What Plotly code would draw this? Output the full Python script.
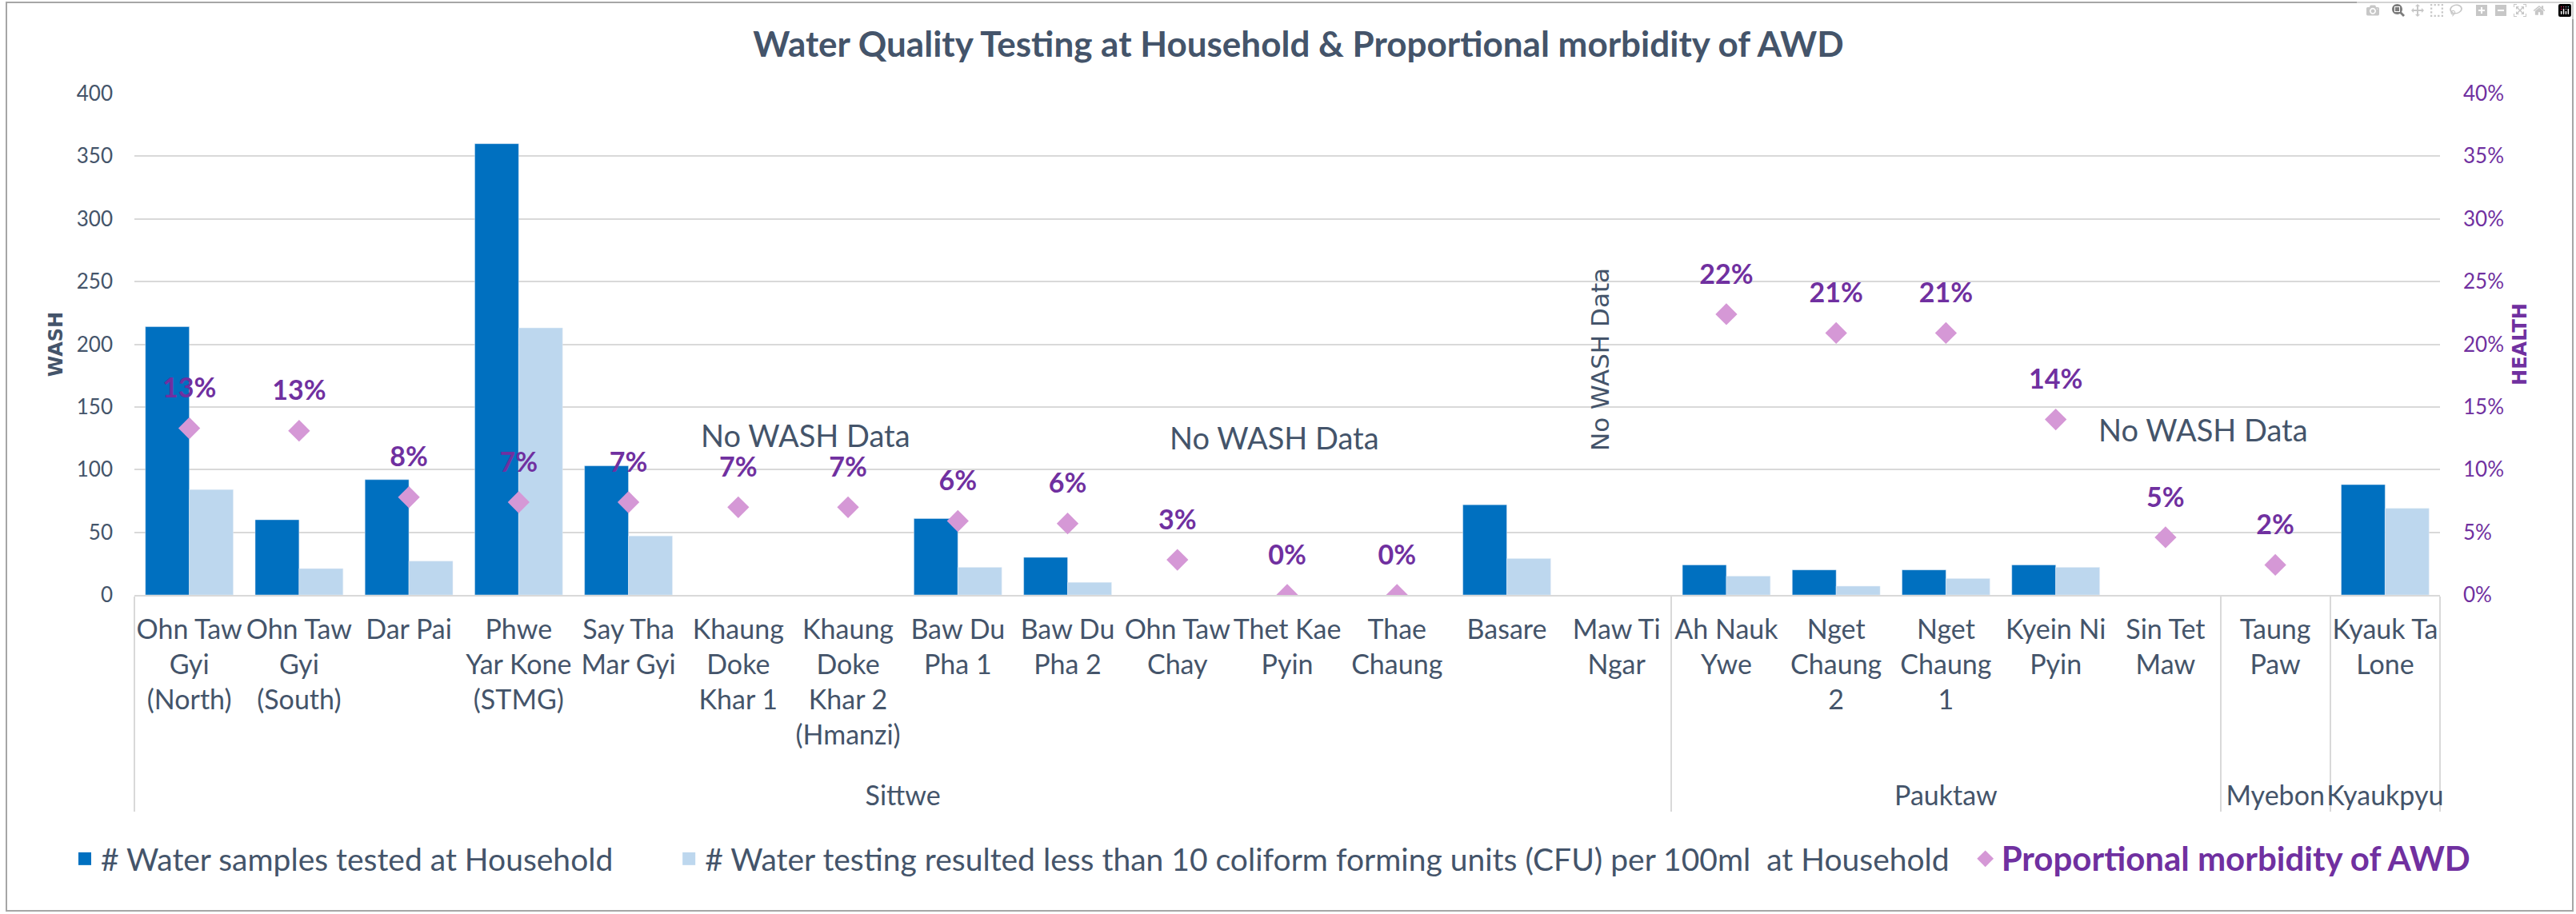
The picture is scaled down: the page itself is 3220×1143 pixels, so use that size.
import plotly.graph_objects as go

# ---------------- data ----------------
districts = ["Sittwe"] * 14 + ["Pauktaw"] * 5 + ["Myebon", "Kyaukpyu"]
villages = [
    "Ohn Taw<br>Gyi<br>(North)", "Ohn Taw<br>Gyi<br>(South)", "Dar Pai",
    "Phwe<br>Yar Kone<br>(STMG)", "Say Tha<br>Mar Gyi", "Khaung<br>Doke<br>Khar 1",
    "Khaung<br>Doke<br>Khar 2<br>(Hmanzi)", "Baw Du<br>Pha 1", "Baw Du<br>Pha 2",
    "Ohn Taw<br>Chay", "Thet Kae<br>Pyin", "Thae<br>Chaung", "Basare", "Maw Ti<br>Ngar",
    "Ah Nauk<br>Ywe", "Nget<br>Chaung<br>2", "Nget<br>Chaung<br>1", "Kyein Ni<br>Pyin",
    "Sin Tet<br>Maw", "Taung<br>Paw", "Kyauk Ta<br>Lone",
]
samples_tested = [214, 60, 92, 360, 103, None, None, 61, 30, None, None, None, 72, None,
                  24, 20, 20, 24, None, None, 88]
samples_safe = [84, 21, 27, 213, 47, None, None, 22, 10, None, None, None, 29, None,
                15, 7, 13, 22, None, None, 69]
awd_morbidity = [0.133, 0.131, 0.078, 0.074, 0.074, 0.070, 0.070, 0.059, 0.057, 0.028,
                 0.0, 0.0, None, None, 0.224, 0.209, 0.209, 0.140, 0.046, 0.024, None]

name_tested = "# Water samples tested at Household"
name_safe = "# Water testing resulted less than 10 coliform forming units (CFU) per 100ml  at Household"
name_awd = "Proportional morbidity of AWD"
title_text = "Water Quality Testing at Household & Proportional morbidity of AWD"
no_data_text = "No WASH Data"

# ---------------- style ----------------
DARK = "#0070C0"
LIGHT = "#BDD7EE"
PINK = "#D598D6"
PURPLE = "#7030A0"
SLATE = "#44546A"
GRID = "#D9D9D9"
FONT = "Lato"
WIDE = "DejaVu Sans"

W, H = 3220, 1143
L, R, T, B = 168, 170, 117, 399
PW, PH = W - L - R, H - T - B


def px(xp):
    return (xp - L) / PW


def py(yp):
    return (H - B - yp) / PH


# an extra blank line under each village label leaves room above the district row
village_labels = [v + "<br>&nbsp;" for v in villages]
x = [districts, village_labels]
first_x = [[districts[0]], [village_labels[0]]]


def nbsp(n):
    return "&nbsp;" * n


fig = go.Figure()
fig.add_trace(go.Bar(x=x, y=samples_tested, name=name_tested, marker_color=DARK,
                     showlegend=False, legendgroup="a"))
fig.add_trace(go.Bar(x=x, y=samples_safe, name=name_safe, marker_color=LIGHT,
                     showlegend=False, legendgroup="b"))
fig.add_trace(go.Scatter(x=x, y=awd_morbidity, yaxis="y2", mode="markers", name=name_awd,
                         marker=dict(symbol="diamond", size=21, color=PINK),
                         showlegend=False, legendgroup="c"))
fig.add_trace(go.Scatter(x=x, y=awd_morbidity, yaxis="y2", mode="markers+text",
                         marker=dict(size=46, opacity=0, color=PINK),
                         texttemplate="<b>%{y:.0%}</b>", textposition="top center",
                         textfont=dict(family=FONT, size=34, color=PURPLE),
                         hoverinfo="skip", showlegend=False))
# legend entries
fig.add_trace(go.Scatter(x=first_x, y=[None], mode="markers", name=name_tested + nbsp(7),
                         marker=dict(symbol="square", size=24, color=DARK), legendgroup="a"))
fig.add_trace(go.Scatter(x=first_x, y=[None], mode="markers", name=name_safe + nbsp(2),
                         marker=dict(symbol="square", size=24, color=LIGHT), legendgroup="b"))
fig.add_trace(go.Scatter(x=first_x, y=[None], yaxis="y2", mode="markers",
                         name=f"<span style='color:{PURPLE};font-size:42px'><b>{name_awd}</b></span>",
                         marker=dict(symbol="diamond", size=26, color=PINK), legendgroup="c"))

annotations = [
    dict(text=no_data_text, x=px(1007), y=py(544)),
    dict(text=no_data_text, x=px(1593), y=py(547)),
    dict(text=no_data_text, x=px(2754), y=py(537)),
]
ann = []
for a in annotations:
    ann.append(dict(xref="paper", yref="paper", showarrow=False, xanchor="center", yanchor="middle",
                    font=dict(family=FONT, size=38, color=SLATE), **a))
ann.append(dict(xref="paper", yref="paper", showarrow=False, xanchor="center", yanchor="middle",
                text=no_data_text, x=px(2000), y=py(450), textangle=-90,
                font=dict(family=WIDE, size=31, color=SLATE)))

fig.update_layout(
    width=W, height=H, autosize=False,
    margin=dict(l=L, r=R, t=T, b=B, pad=0, autoexpand=False),
    paper_bgcolor="white", plot_bgcolor="white",
    font=dict(family=FONT, color=SLATE),
    title=dict(text=f"<b>{title_text}</b>", xref="container", yref="container",
               x=1623 / W, y=1 - 56 / H, xanchor="center", yanchor="middle",
               font=dict(family=FONT, size=44, color=SLATE)),
    barmode="group", bargap=0.2, bargroupgap=0,
    xaxis=dict(showgrid=False, showline=True, linecolor=GRID, linewidth=2,
               range=[-0.5, len(villages) - 0.5], autorange=False, tickangle=0,
               showdividers=True, dividercolor=GRID, dividerwidth=2,
               ticklabelstandoff=12, automargin=False,
               tickfont=dict(family=FONT, size=34, color=SLATE), ticks=""),
    yaxis=dict(range=[0, 400], dtick=50, showgrid=True, gridcolor=GRID, gridwidth=2,
               zeroline=False, showline=False, ticklabelstandoff=26, automargin=False,
               tickfont=dict(family=FONT, size=26, color=SLATE),
               title=dict(text="<b>WASH</b>", standoff=10,
                          font=dict(family=WIDE, size=24, color=SLATE))),
    yaxis2=dict(range=[0, 0.4], dtick=0.05, tickformat=".0%", overlaying="y", side="right",
                showgrid=False, zeroline=False, showline=False, ticklabelstandoff=28,
                automargin=False,
                tickfont=dict(family=FONT, size=26, color=PURPLE),
                title=dict(text="<b>HEALTH</b>", standoff=12,
                           font=dict(family=WIDE, size=24, color=PURPLE))),
    legend=dict(orientation="h", xref="paper", yref="paper",
                x=px(86), xanchor="left", y=py(1074), yanchor="middle",
                font=dict(family=FONT, size=39, color=SLATE), bgcolor="rgba(0,0,0,0)",
                itemsizing="trace", traceorder="normal"),
    annotations=ann,
    shapes=[dict(type="rect", xref="paper", yref="paper", x0=px(8), x1=px(3216),
                 y0=py(1139), y1=py(3), line=dict(color="#A6A6A6", width=2), layer="below")],
)

fig.write_html("out.html", post_script="document.body.style.margin='0';document.body.style.overflow='hidden';")
